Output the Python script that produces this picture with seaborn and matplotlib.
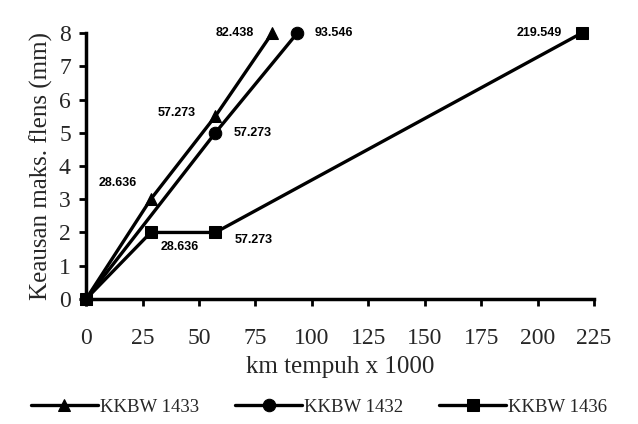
import matplotlib
matplotlib.use("Agg")
import matplotlib.pyplot as plt
import seaborn as sns
import pandas as pd

# data
x_1433 = [0, 28.636, 57.273, 82.438]
y_1433 = [0, 3, 5.5, 8]
x_1432 = [0, 57.273, 93.546]
y_1432 = [0, 5, 8]
x_1436 = [0, 28.636, 57.273, 219.549]
y_1436 = [0, 2, 2, 8]
series_names = ["KKBW 1433", "KKBW 1432", "KKBW 1436"]
x_ticks = [0, 25, 50, 75, 100, 125, 150, 175, 200, 225]
y_ticks = [0, 1, 2, 3, 4, 5, 6, 7, 8]

sns.set_theme(style="ticks")
plt.rcParams['font.family'] = ['Liberation Serif', 'DejaVu Serif']

df = pd.concat([
    pd.DataFrame({"x": x_1433, "y": y_1433, "s": series_names[0]}),
    pd.DataFrame({"x": x_1432, "y": y_1432, "s": series_names[1]}),
    pd.DataFrame({"x": x_1436, "y": y_1436, "s": series_names[2]}),
])

fig = plt.figure(figsize=(6.38, 4.24), dpi=100)
ax = fig.add_axes([0.135, 0.295, 0.796, 0.627])

markers = {"KKBW 1433": "^", "KKBW 1432": "o", "KKBW 1436": "s"}
for name in series_names:
    sub = df[df.s == name]
    sns.lineplot(data=sub, x="x", y="y", ax=ax, color="black", lw=2.4,
                 marker=markers[name], markersize=9, markeredgecolor="black",
                 label=name, sort=False, estimator=None)

ax.set_xlim(0, 225)
ax.set_ylim(0, 8)
ax.set_xticks(x_ticks)
ax.set_yticks(y_ticks)
ax.tick_params(axis="both", labelsize=17, width=2, length=5, color="black")
ax.tick_params(axis="x", pad=16)
ax.tick_params(axis="y", pad=6)
for sp in ["top", "right"]:
    ax.spines[sp].set_visible(False)
for sp in ["left", "bottom"]:
    ax.spines[sp].set_linewidth(2.5)
    ax.spines[sp].set_color("black")
ax.set_xlabel("km tempuh x 1000", fontsize=18, labelpad=5)
ax.set_ylabel("Keausan maks. flens (mm)", fontsize=18, labelpad=4)
for ln in ax.lines:
    ln.set_clip_on(False)

lab_font = dict(fontsize=9, family="Liberation Sans", fontweight="bold", color="black")
def lab(x, y, txt, dx, dy, ha):
    ax.annotate(txt, (x, y), xytext=(dx, dy), textcoords="offset pixels",
                ha=ha, va="center", **lab_font)

lab(x_1433[3], y_1433[3], "82.438", -18, 0, "right")
lab(x_1432[2], y_1432[2], "93.546", 17, 0, "left")
lab(x_1433[2], y_1433[2], "57.273", -20, 3, "right")
lab(x_1432[1], y_1432[1], "57.273", 18, 0, "left")
lab(x_1433[1], y_1433[1], "28.636", -14, 16, "right")
lab(x_1436[1], y_1436[1], "28.636", 10, -15, "left")
lab(x_1436[2], y_1436[2], "57.273", 19, -8, "left")
lab(x_1436[3], y_1436[3], "219.549", -20, 0, "right")

ax.get_legend().remove()
handles, labels = ax.get_legend_handles_labels()
fig.legend(handles, labels, loc="lower center", bbox_to_anchor=(0.5, -0.02),
           ncol=3, frameon=False, fontsize=13.5, handlelength=3.6,
           columnspacing=1.9, handletextpad=0.1)

fig.savefig("out.png", dpi=100)
